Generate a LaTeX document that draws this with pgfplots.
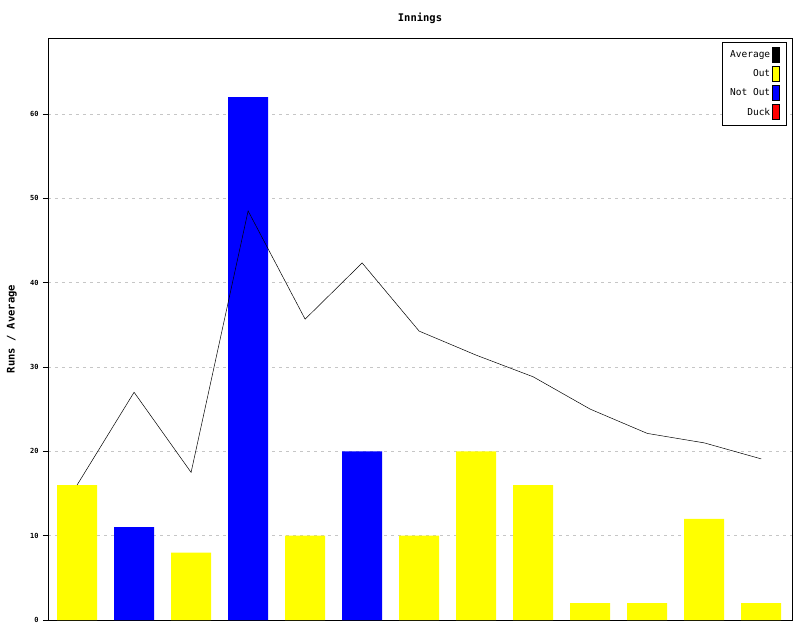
\documentclass[border=0pt]{standalone}
\usepackage{pgfplots}
\pgfplotsset{compat=1.18}
\usepackage{fontspec}
\setmainfont{DejaVu Sans Mono}
\definecolor{yel}{RGB}{255,255,0}
\definecolor{blu}{RGB}{0,0,255}
\definecolor{rd}{RGB}{255,0,0}
\begin{document}
\begin{tikzpicture}
\begin{axis}[
  at={(0pt,0pt)}, anchor=south west,
  scale only axis, width=744pt, height=582pt,
  xmin=-0.51, xmax=12.54, ymin=0, ymax=69,
  xtick=\empty, ytick={0,10,...,60}, ytick pos=left,
  tick align=outside, major tick length=5pt,
  y tick label style={font=\fontsize{7}{8}\selectfont\bfseries, xshift=-1pt},
  /pgf/number format/assume math mode=true,
  ymajorgrids, major grid style={gray!45, dash pattern=on 3pt off 4pt},
  axis line style={line width=0.8pt},
  tick style={line width=0.8pt, black},
  title={Innings},
  title style={font=\fontsize{10.5}{12}\selectfont\bfseries, anchor=center, at={(axis description cs:0.5,1)}, yshift=14pt},
  ylabel={Runs / Average},
  ylabel style={font=\fontsize{10.5}{12}\selectfont\bfseries, anchor=center, at={(axis description cs:-0.0484,0.5)}},
  legend style={at={(axis description cs:1,1)}, anchor=north east, xshift=-6pt, yshift=-4pt,
    draw=black, fill=white, font=\fontsize{9.5}{11}\selectfont, row sep=3.5pt, inner xsep=6pt, inner ysep=5pt},
  legend cell align=right, legend plot pos=right,
]
\addplot[ybar, bar width=40pt, fill=yel, draw=none, forget plot] coordinates {
  (0,16) (2,8) (4,10) (6,10) (7,20) (8,16) (9,2) (10,2) (11,12) (12,2)};
\addplot[ybar, bar width=40pt, fill=blu, draw=none, forget plot] coordinates {
  (1,11) (3,62) (5,20)};
\addplot[black, line width=0.5pt, forget plot] coordinates {
  (0,16) (1,27) (2,17.5) (3,48.5) (4,35.667) (5,42.333) (6,34.25) (7,31.4) (8,28.833) (9,25) (10,22.125) (11,21) (12,19.1)};
\addlegendimage{legend image code/.code={\filldraw[fill=black,draw=black,line width=0.6pt] (0pt,-7.5pt) rectangle (7pt,7.5pt);}}
\addlegendentry{Average}
\addlegendimage{legend image code/.code={\filldraw[fill=yel,draw=black,line width=0.6pt] (0pt,-7.5pt) rectangle (7pt,7.5pt);}}
\addlegendentry{Out}
\addlegendimage{legend image code/.code={\filldraw[fill=blu,draw=black,line width=0.6pt] (0pt,-7.5pt) rectangle (7pt,7.5pt);}}
\addlegendentry{Not Out}
\addlegendimage{legend image code/.code={\filldraw[fill=rd,draw=black,line width=0.6pt] (0pt,-7.5pt) rectangle (7pt,7.5pt);}}
\addlegendentry{Duck}
\end{axis}
\path (-48pt,-20pt) rectangle (752pt,620pt);
\end{tikzpicture}
\end{document}
